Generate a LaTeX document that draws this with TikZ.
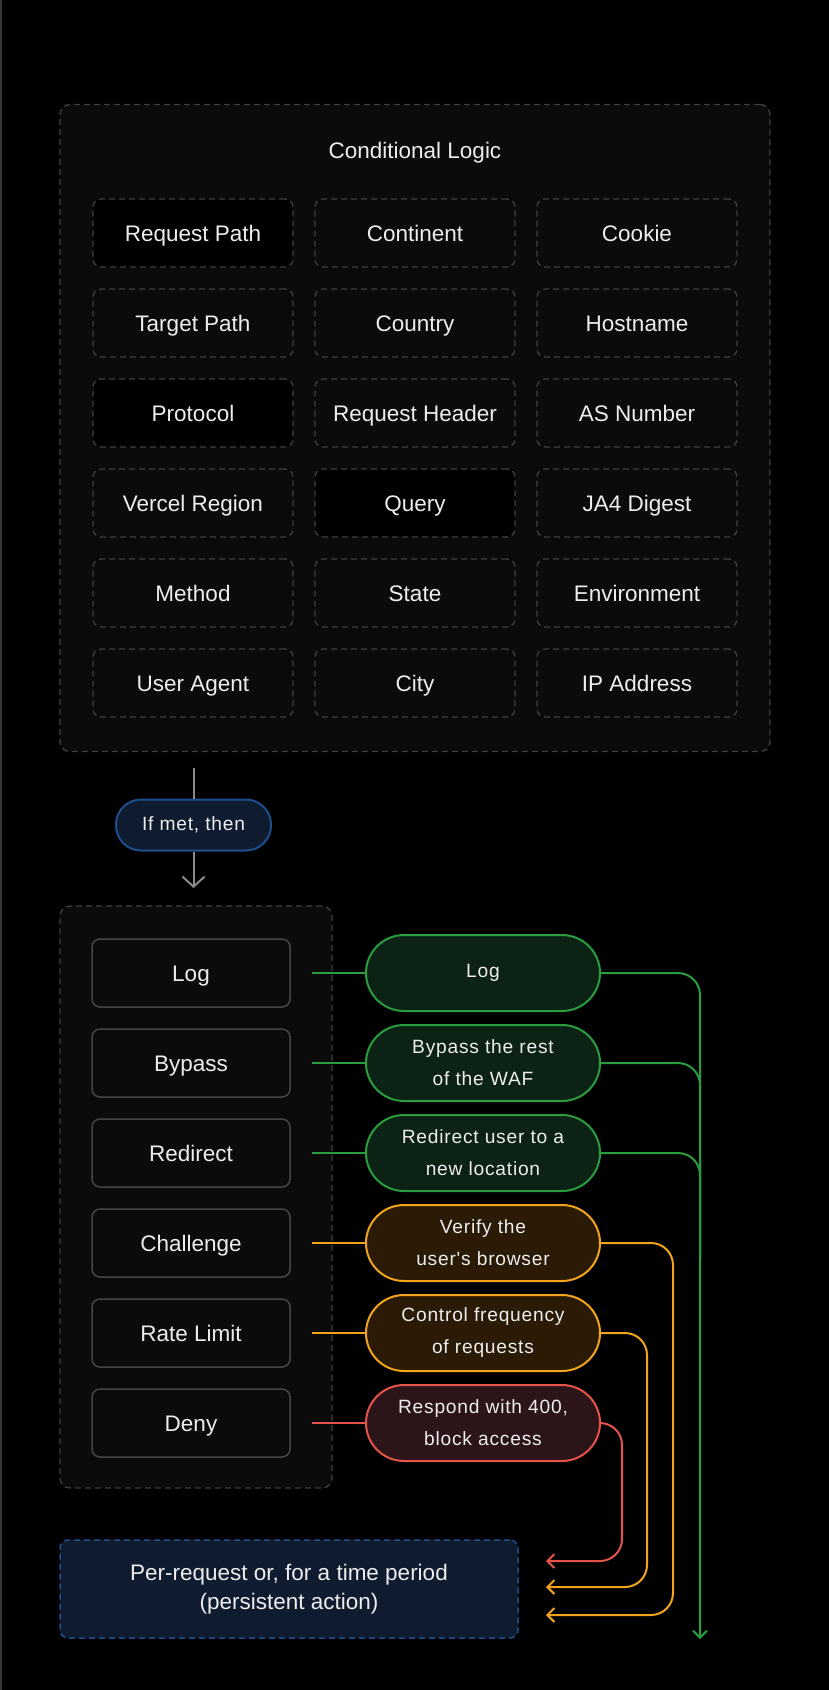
\documentclass[tikz,border=0pt]{standalone}
\usepackage{fontspec}
\setmainfont{Liberation Sans}
\newfontfamily\pillfont[LetterSpace=4]{Liberation Sans}
\usetikzlibrary{arrows.meta}

\definecolor{panelfill}{HTML}{0B0B0B}
\definecolor{dashgray}{HTML}{3F3F3F}
\definecolor{boxline}{HTML}{464646}
\definecolor{textwhite}{HTML}{EDEDED}
\definecolor{arrowgray}{HTML}{8A8A8A}
\definecolor{edgegray}{HTML}{3A3A3A}
\definecolor{okgreen}{HTML}{2A9D3F}
\definecolor{okgreenfill}{HTML}{0B2214}
\definecolor{warnorange}{HTML}{F2A51C}
\definecolor{warnorangefill}{HTML}{2B1A06}
\definecolor{denyred}{HTML}{E5534B}
\definecolor{denyredfill}{HTML}{2B1518}
\definecolor{infoblue}{HTML}{1D4F8C}
\definecolor{infobluefill}{HTML}{0F1C30}

\tikzset{
  bigtext/.style={text=textwhite, font=\fontsize{22.5}{29}\selectfont},
  pilltext/.style={text=textwhite, font=\pillfont\fontsize{19.2}{32}\selectfont},
  panel/.style={draw=dashgray, line width=1.3pt, dash pattern=on 6pt off 4pt,
    rounded corners=10pt, fill=panelfill},
  cond/.style={panel, rounded corners=8pt, minimum width=200pt, minimum height=68pt,
    text height=16pt, text depth=0pt, bigtext},
  act/.style={draw=boxline, line width=1.5pt, rounded corners=8pt, fill=panelfill,
    minimum width=198pt, minimum height=68pt, text height=16pt, text depth=0pt, bigtext},
  result/.style={line width=2pt, rounded corners=38pt, minimum width=234pt,
    minimum height=76pt, align=center, pilltext},
  greenres/.style={result, draw=okgreen, fill=okgreenfill},
  orangeres/.style={result, draw=warnorange, fill=warnorangefill},
  redres/.style={result, draw=denyred, fill=denyredfill},
  barb/.style={-{Straight Barb[length=7pt,width=14pt]}},
  wire/.style={line width=2pt, rounded corners=22pt}
}

\begin{document}
\begin{tikzpicture}[x=1pt,y=-1pt]
  \useasboundingbox (0,0) rectangle (829,1690);
  \fill[black] (0,0) rectangle (829,1690);
  \draw[edgegray, line width=1.5pt] (0.75,0) -- (0.75,1690);

  % conditional logic
  \node[panel, minimum width=710pt, minimum height=647pt] (logic) at (415,428) {};
  \node[bigtext] (logic title) at (415,153) {Conditional Logic};

  \node[cond, fill=black] (request path) at (193,233) {Request Path};
  \node[cond] (continent) at (415,233) {Continent};
  \node[cond] (cookie) at (637,233) {Cookie};

  \node[cond] (target path) at (193,323) {Target Path};
  \node[cond] (country) at (415,323) {Country};
  \node[cond] (hostname) at (637,323) {Hostname};

  \node[cond, fill=black] (protocol) at (193,413) {Protocol};
  \node[cond] (request header) at (415,413) {Request Header};
  \node[cond] (as number) at (637,413) {AS Number};

  \node[cond] (vercel region) at (193,503) {Vercel Region};
  \node[cond, fill=black] (query) at (415,503) {Query};
  \node[cond] (ja4 digest) at (637,503) {JA4 Digest};

  \node[cond] (method) at (193,593) {Method};
  \node[cond] (state) at (415,593) {State};
  \node[cond] (environment) at (637,593) {Environment};

  \node[cond] (user agent) at (193,683) {User Agent};
  \node[cond] (city) at (415,683) {City};
  \node[cond] (ip address) at (637,683) {IP Address};

  % if met, then
  \node[draw=infoblue, fill=infobluefill, line width=2pt, rounded corners=25pt,
    minimum width=155pt, minimum height=51pt, pilltext] (if met) at (193.5,825) {If met, then};
  \coordinate (if met in) at (193.5,768);
  \coordinate (if met out) at (193.5,888);
  \draw[arrowgray, line width=2pt] (if met in) -- (if met.north);
  \draw[arrowgray, line width=2pt, -{Straight Barb[length=10pt,width=22pt]}] (if met.south) -- (if met out);

  % actions
  \node[panel, minimum width=272pt, minimum height=582pt] (actions) at (196,1197) {};

  \node[act] (log) at (191,973) {Log};
  \node[act] (bypass) at (191,1063) {Bypass};
  \node[act] (redirect) at (191,1153) {Redirect};
  \node[act] (challenge) at (191,1243) {Challenge};
  \node[act] (rate limit) at (191,1333) {Rate Limit};
  \node[act] (deny) at (191,1423) {Deny};

  \node[greenres] (log res) at (483,973) {Log};
  \node[greenres] (bypass res) at (483,1063) {Bypass the rest\\of the WAF};
  \node[greenres] (redirect res) at (483,1153) {Redirect user to a\\new location};
  \node[orangeres] (challenge res) at (483,1243) {Verify the\\user's browser};
  \node[orangeres] (rate limit res) at (483,1333) {Control frequency\\of requests};
  \node[redres] (deny res) at (483,1423) {Respond with 400,\\block access};

  \draw[wire, okgreen] ([xshift=21pt]log.east) -- (log res.west);
  \draw[wire, okgreen] ([xshift=21pt]bypass.east) -- (bypass res.west);
  \draw[wire, okgreen] ([xshift=21pt]redirect.east) -- (redirect res.west);
  \draw[wire, warnorange] ([xshift=21pt]challenge.east) -- (challenge res.west);
  \draw[wire, warnorange] ([xshift=21pt]rate limit.east) -- (rate limit res.west);
  \draw[wire, denyred] ([xshift=21pt]deny.east) -- (deny res.west);

  % persistence
  \node[draw=infoblue, fill=infobluefill, line width=1.5pt, dash pattern=on 6pt off 4pt,
    rounded corners=8pt, minimum width=458pt, minimum height=98pt, align=center,
    bigtext] (persist) at (289,1589) {Per-request or, for a time period\\(persistent action)};

  \coordinate (green end) at (700,1639);
  \coordinate (green merge) at (700,1260);
  \draw[wire, okgreen, barb] (log res.east) -| (green end);
  \draw[wire, okgreen] (bypass res.east) -| (green merge);
  \draw[wire, okgreen] (redirect res.east) -| (green merge);

  \coordinate (challenge turn) at (673,1615);
  \coordinate (challenge end) at (546,1615);
  \coordinate (rate limit turn) at (647,1587);
  \coordinate (rate limit end) at (546,1587);
  \coordinate (deny turn) at (622,1561);
  \coordinate (deny end) at (546,1561);
  \draw[wire, warnorange, barb] (challenge res.east) -| (challenge turn) -- (challenge end);
  \draw[wire, warnorange, barb] (rate limit res.east) -| (rate limit turn) -- (rate limit end);
  \draw[wire, denyred, barb] (deny res.east) -| (deny turn) -- (deny end);
\end{tikzpicture}
\end{document}
